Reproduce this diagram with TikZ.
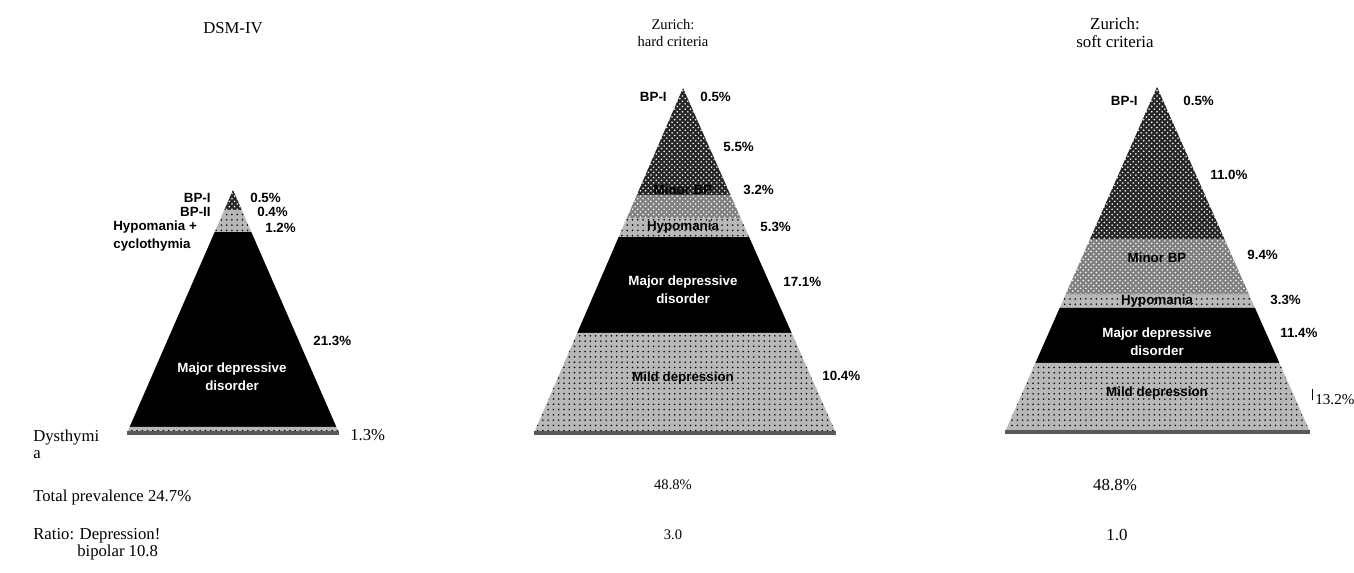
\documentclass[tikz,border=0pt]{standalone}
\usepackage{fontspec}
\setmainfont{Liberation Serif}
\newfontfamily\labelfont{Liberation Sans}
\usetikzlibrary{patterns,calc}

\begin{document}
\begin{tikzpicture}[x=0.02cm,y=-0.02cm,
  txt/.style={inner sep=0pt, font=\fontsize{9.5}{9.6}\selectfont},
  txtsmall/.style={inner sep=0pt, align=center, font=\fontsize{8.3}{9.5}\selectfont},
  txtbig/.style={inner sep=0pt, align=center, font=\fontsize{9.6}{10.5}\selectfont},
  lab/.style={inner sep=0pt, align=center, font=\labelfont\bfseries\fontsize{7.6}{10.5}\selectfont},
  labw/.style={lab, text=white},
  noisedark/.style={fill=black!85, postaction={pattern=crosshatch dots, pattern color=white}},
  noisemid/.style={fill=black!50, postaction={pattern=crosshatch dots, pattern color=white}},
  noiselight/.style={fill=black!28, postaction={pattern=dots, pattern color=black}},
  solid/.style={fill=black},
  baseline/.style={line width=2.5, black!65}]
\useasboundingbox (0,0) rectangle (1354,573);
\newcommand{\pyrband}[4]{\fill[#4] ($(#1A)!#2!(#1L)$) -- ($(#1A)!#2!(#1R)$) -- ($(#1A)!#3!(#1R)$) -- ($(#1A)!#3!(#1L)$) -- cycle;}

% DSM-IV
\coordinate (dA) at (233,190);
\coordinate (dL) at (127,433);
\coordinate (dR) at (339,433);
\pyrband{d}{0}{0.082}{noisedark}	% BP-I
\pyrband{d}{0.082}{0.128}{noiselight}	% BP-II
\pyrband{d}{0.128}{0.173}{noiselight}	% hypomania
\pyrband{d}{0.173}{0.975}{solid}	% major depression
\pyrband{d}{0.975}{1}{noiselight}	% dysthymia
\draw[baseline] (dL) -- (dR);

\node[txt] (dtitle) at (233,28) {DSM-IV};
\node[lab, anchor=east] (dbp1) at (211,198) {BP-I};
\node[lab, anchor=west] (dbp1p) at (250,198) {0.5\%};
\node[lab, anchor=east] (dbp2) at (211,212) {BP-II};
\node[lab, anchor=west] (dbp2p) at (257,212) {0.4\%};
\node[lab, anchor=west, align=left] (dhypo) at (113,236) {Hypomania +\\cyclothymia};
\node[lab, anchor=west] (dhypop) at (265,228) {1.2\%};
\node[lab, anchor=west] (dmddp) at (313,341) {21.3\%};
\node[labw] (dmdd) at (232,377) {Major depressive\\disorder};
\node[txt, anchor=west, align=left] (ddys) at (33,444) {Dysthymi\\a};
\node[txt, anchor=west] (ddysp) at (350,435) {1.3\%};
\node[txt, anchor=west] (dtotal) at (33,497) {Total prevalence 24.7\%};
\node[txt, anchor=west, align=left] (dratio) at (33,544) {Ratio: Depression!\\\hspace*{25pt}bipolar 10.8};

% Zurich: hard criteria
\coordinate (hA) at (683,88);
\coordinate (hL) at (534,433);
\coordinate (hR) at (836,433);
\pyrband{h}{0}{0.31}{noisedark}	% BP-I, BP-II
\pyrband{h}{0.31}{0.377}{noisemid}	% minor BP
\pyrband{h}{0.377}{0.432}{noiselight}	% hypomania
\pyrband{h}{0.432}{0.71}{solid}	% major depression
\pyrband{h}{0.71}{1}{noiselight}	% mild depression
\draw[baseline] (hL) -- (hR);

\node[txtsmall] (htitle) at (673,33) {Zurich:\\hard criteria};
\node[lab, anchor=east] (hbp1) at (667,97) {BP-I};
\node[lab, anchor=west] (hbp1p) at (700,97) {0.5\%};
\node[lab, anchor=west] (hbp2p) at (723,147) {5.5\%};
\node[lab] (hminor) at (683,190) {Minor BP};
\node[lab, anchor=west] (hminorp) at (743,190) {3.2\%};
\node[lab] (hhypo) at (683,227) {Hypomania};
\node[lab, anchor=west] (hhypop) at (760,227) {5.3\%};
\node[labw] (hmdd) at (683,290) {Major depressive\\disorder};
\node[lab, anchor=west] (hmddp) at (783,282) {17.1\%};
\node[lab] (hmild) at (683,378) {Mild depression};
\node[lab, anchor=west] (hmildp) at (822,376) {10.4\%};
\node[txtsmall] (htotal) at (673,485) {48.8\%};
\node[txtsmall] (hratio) at (673,535) {3.0};

% Zurich: soft criteria
\coordinate (sA) at (1157,87);
\coordinate (sL) at (1005,432);
\coordinate (sR) at (1310,432);
\pyrband{s}{0}{0.44}{noisedark}	% BP-I, BP-II
\pyrband{s}{0.44}{0.6}{noisemid}	% minor BP
\pyrband{s}{0.6}{0.64}{noiselight}	% hypomania
\pyrband{s}{0.64}{0.8}{solid}	% major depression
\pyrband{s}{0.8}{1}{noiselight}	% mild depression
\draw[baseline] (sL) -- (sR);

\node[txtbig] (stitle) at (1115,33) {Zurich:\\soft criteria};
\node[lab, anchor=east] (sbp1) at (1138,101) {BP-I};
\node[lab, anchor=west] (sbp1p) at (1183,101) {0.5\%};
\node[lab, anchor=west] (sbp2p) at (1210,175) {11.0\%};
\node[lab] (sminor) at (1157,258) {Minor BP};
\node[lab, anchor=west] (sminorp) at (1247,255) {9.4\%};
\node[lab] (shypo) at (1157,301) {Hypomania};
\node[lab, anchor=west] (shypop) at (1270,300) {3.3\%};
\node[labw] (smdd) at (1157,342) {Major depressive\\disorder};
\node[lab, anchor=west] (smddp) at (1280,333) {11.4\%};
\node[lab] (smild) at (1157,393) {Mild depression};
\node[txt, anchor=west, font=\fontsize{8.6}{9}\selectfont] (smildp) at (1315,400) {13.2\%};
\draw (smildp.west) ++(-3,-11) coordinate (stick) -- ++(0,11);
\node[txtbig] (stotal) at (1115,485) {48.8\%};
\node[txtbig] (sratio) at (1117,535) {1.0};
\end{tikzpicture}
\end{document}
